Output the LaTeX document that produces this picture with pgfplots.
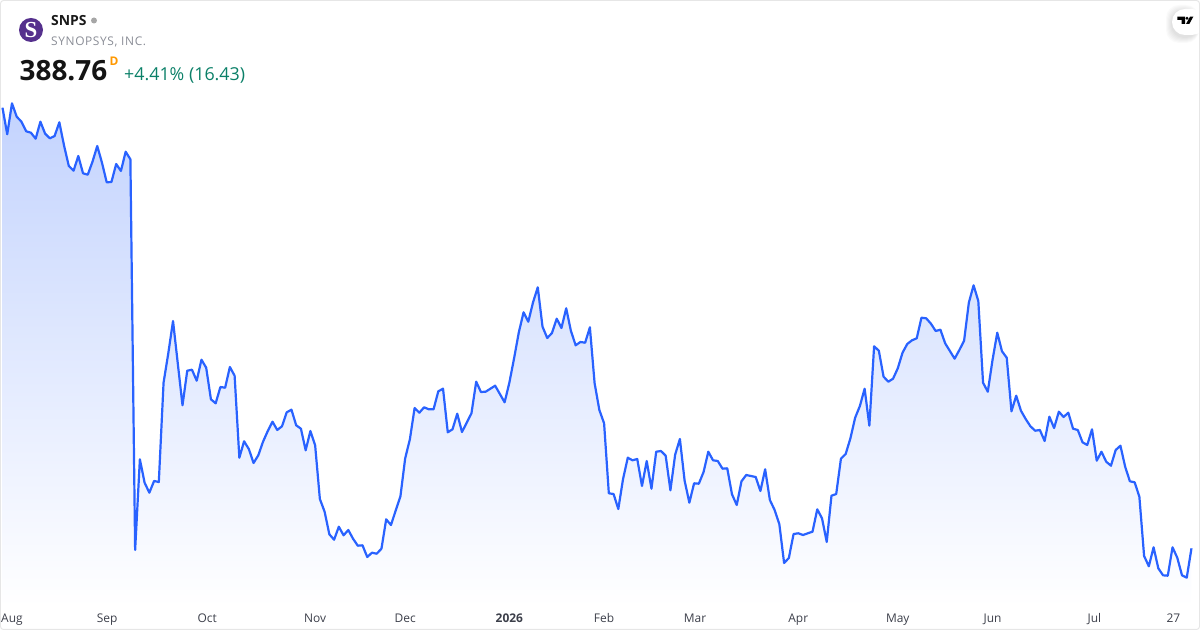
\documentclass[border=0pt]{standalone}
\usepackage{pgfplots}
\pgfplotsset{compat=1.18}
\usepackage{pgfplotstable}
\usepackage{fontspec}
\setmainfont{Open Sans}
\newfontfamily\serifS{Liberation Serif}
\definecolor{linecol}{HTML}{2962FF}
\definecolor{topfill}{HTML}{C3D3FE}
\definecolor{bordercol}{HTML}{E6E6E6}
\definecolor{tickcol}{HTML}{3C3F4A}
\definecolor{upcol}{HTML}{0B8068}
\definecolor{subcol}{HTML}{8A8D96}
\definecolor{logopurple}{HTML}{55308D}
\definecolor{dcol}{HTML}{FF9800}
\pgfplotstableread{
i py
0 107.7
1 134.3
2 103.3
3 116.7
4 121.7
5 131.3
6 132.7
7 138.7
8 121.7
9 133.7
10 138.3
11 136
12 122.3
13 145.7
14 166
15 170.7
16 156
17 173.3
18 174.7
19 161.7
20 146
21 162.7
22 182.3
23 182
24 164
25 171
26 151.7
27 159.3
28 550
29 459.3
30 482.7
31 492.7
32 481
33 482
34 382.7
35 353.3
36 321
37 363.3
38 405.3
39 370.7
40 369.7
41 380.7
42 359.7
43 367.7
44 399.3
45 403.3
46 387
47 387.7
48 367
49 375.7
50 457.7
51 441.3
52 449
53 463
54 455.3
55 441.7
56 431
57 421.7
58 430
59 426.3
60 412.3
61 409.7
62 425.3
63 428.7
64 450.3
65 431
66 445.3
67 499
68 511.7
69 534.3
70 539.7
71 526.7
72 535.3
73 530
74 538.7
75 545.7
76 545.3
77 557
78 552.7
79 553.7
80 548.7
81 519.3
82 525
83 510.7
84 496.5
85 458.5
86 439.3
87 408
88 412.7
89 407.3
90 409.3
91 409.3
92 391.3
93 388.7
94 432.3
95 429.3
96 413.7
97 432
98 422.7
99 413.3
100 381.7
101 392
102 391.7
103 388.7
104 385.7
105 394
106 402.3
107 382.7
108 358.3
109 332.3
110 312.3
111 321.7
112 302.3
113 287.3
114 326.7
115 338
116 333
117 318.7
118 328
119 308.3
120 331
121 345.3
122 342
123 342.7
124 327.3
125 383.3
126 410
127 423.3
128 493.3
129 494
130 509
131 479
132 457.7
133 460.3
134 459
135 486
136 461
137 488.7
138 451.7
139 451
140 455.7
141 490.3
142 454.7
143 439
144 480.7
145 502.7
146 483.3
147 483.7
148 472
149 451.7
150 460.3
151 461
152 468.7
153 468.3
154 494.3
155 505
156 481.3
157 475
158 476
159 477
160 491
161 469.3
162 500
163 510
164 524.3
165 563
166 558
167 534
168 533.3
169 535
170 533.3
171 531.7
172 509.3
173 518.3
174 542
175 495.7
176 494
177 458.7
178 454
179 438.3
180 417.7
181 406
182 388.7
183 425.7
184 346.3
185 350.7
186 376.7
187 381.7
188 378.7
189 368.3
190 352.7
191 344
192 340.3
193 338.3
194 317.7
195 318.3
196 323.7
197 331
198 329.7
199 343.3
200 351
201 358.7
202 350
203 340.7
204 302.7
205 285.3
206 301
207 382.7
208 391.7
209 360
210 332.7
211 351.3
212 357.7
213 411.3
214 395.7
215 410.7
216 419
217 426.3
218 430.7
219 430
220 441
221 416.7
222 428
223 411.7
224 417
225 412.7
226 428.7
227 430
228 442.3
229 445
230 429.3
231 460.7
232 451.7
233 461.7
234 465.7
235 450
236 445.7
237 466.7
238 481.3
239 482.3
240 496.7
241 556
242 566.3
243 547.3
244 568.3
245 575.3
246 575.7
247 547.3
248 557.7
249 575.3
250 577.7
251 548.3
}\pricetable
\begin{document}
\begin{tikzpicture}[x=1bp,y=1bp]
\path[use as bounding box] (0,0) rectangle (1200,630);
\begin{axis}[
  at={(0,0)},anchor=south west,
  scale only axis,width=1200bp,height=630bp,
  xmin=-0.528,xmax=252.8,
  ymin=0,ymax=630,y dir=reverse,
  axis line style={draw=none},
  ytick=\empty,
  xtick={2.0,22.1,43.2,66,85,107,127,146.2,168,189,209,230.5,247.2},
  xticklabels={Aug,Sep,Oct,Nov,Dec,\textbf{2026},Feb,Mar,Apr,May,Jun,Jul,27},
  major tick length=0pt,
  xticklabel style={font=\fontsize{12}{12}\selectfont,text=tickcol,anchor=base,yshift=8bp},
  clip=false,
]
\addplot[draw=none,shade,top color=topfill,bottom color=white,forget plot]
  table[x=i,y=py]{\pricetable} -- (axis cs:251,607) -- (axis cs:0,607) -- cycle;
\addplot[linecol,line width=2.2bp,line join=round,no marks] table[x=i,y=py]{\pricetable};
\end{axis}
\draw[bordercol,line width=1bp,rounded corners=3bp] (0.5,0.5) rectangle (1199.5,629.5);
% logo
\fill[logopurple] (31,600) circle (12);
\node[text=white,font=\serifS\bfseries\fontsize{23}{23}\selectfont,inner sep=0pt] at (31,600) {S};
\node[anchor=base west,inner sep=0pt,font=\bfseries\fontsize{14}{14}\selectfont,text=black!90] at (51,604.5) {SNPS};
\fill[black!35] (94,609.5) circle (3);
\node[anchor=base west,inner sep=0pt,font=\addfontfeature{LetterSpace=5}\fontsize{12}{12}\selectfont,text=subcol] at (51,584.5) {SYNOPSYS, INC.};
\node[anchor=base west,inner sep=0pt,font=\bfseries\fontsize{28}{28}\selectfont,text=black!92] at (19.5,549) {388.76};
\node[anchor=base west,inner sep=0pt,font=\bfseries\fontsize{12}{12}\selectfont,text=dcol] at (109.5,564) {D};
\node[anchor=base west,inner sep=0pt,font=\fontsize{17.9}{18}\selectfont,text=upcol] at (124,549.3) {+4.41\% (16.43)};
% TV badge
\foreach \d in {6,5,4,3,2,1}{
  \fill[black,opacity=0.018,rounded corners=13] (1172-\d,595-\d-2) rectangle (1199,621+\d-2);
}
\fill[white,rounded corners=13] (1172,595) rectangle (1205,621);
\draw[bordercol,line width=1bp] (1199.5,590) -- (1199.5,625);
\fill[black] (1177.3,613.3) -- (1185,613.3) -- (1185,606) -- (1181.7,606) -- (1181.7,610) -- (1177.3,610) -- cycle;
\fill[black] (1187,611.7) circle (1.6);
\fill[black] (1190,613.3) -- (1193.3,613.3) -- (1189.3,606) -- (1186,606) -- cycle;
\end{tikzpicture}
\end{document}
